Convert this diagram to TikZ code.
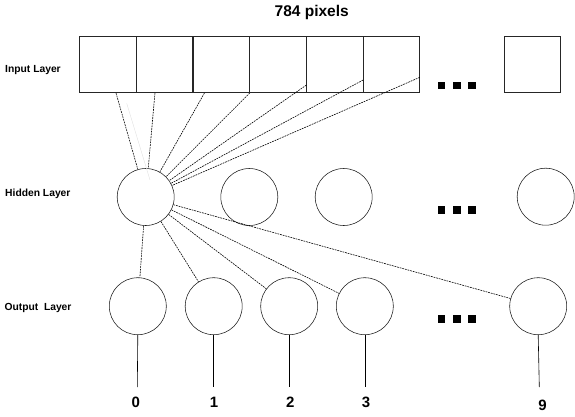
\documentclass[tikz,border=0pt]{standalone}
\usepackage{fontspec}
\setmainfont{Liberation Sans}
\usepackage{tikz}

\tikzset{
	caixa/.style={draw=black!85, line width=0.6pt, minimum width=56.7pt, minimum height=56pt, inner sep=0pt},
	neuronio/.style={circle, draw=black!90, line width=0.55pt, minimum size=57pt, inner sep=0pt},
	ligacao/.style={dash pattern=on 1.8pt off 0.9pt, line width=0.6pt},
	ponto/.style={fill=black, minimum size=7.6pt, inner sep=0pt},
	camada/.style={anchor=base west, font=\bfseries\fontsize{10.3}{12}\selectfont},
	digito/.style={anchor=base, font=\bfseries\fontsize{15}{17}\selectfont}
}

\begin{document}
\begin{tikzpicture}[x=1pt, y=-1pt]
			\useasboundingbox (0,0) rectangle (575,416);
			% Título e nomes das camadas
			\node[anchor=base, font=\bfseries\fontsize{15.5}{18}\selectfont] (titulo) at (311.7,16.7) {784 pixels};
			\node[camada] (lentrada) at (1.7,72.7) {Input Layer};
			\node[camada] (loculta) at (1.7,196.7) {Hidden Layer};
			\node[camada] (lsaida) at (1,310) {Output\ \ Layer};
			% Camada de entrada
			\foreach \i in {1,...,6}
				\node[caixa] (e\i) at ({107.8+56.67*(\i-1)},64.7) {};
			\node[caixa] (e784) at (532.3,64.7) {};
			% Camada oculta
			\node[neuronio] (h1) at (145.7,197) {};
			\node[neuronio] (h2) at (249.3,197) {};
			\node[neuronio] (h3) at (343.7,197) {};
			\node[neuronio] (h4) at (545.7,196.7) {};
			% Camada de saída
			\foreach \d/\x in {0/137.8, 1/213.7, 2/289.2, 3/364.8, 9/538.2}
				\node[neuronio] (o\d) at (\x,306.2) {};
			% Reticências
			\foreach \y/\n in {85.5/a, 210.2/b, 319/c}
				\foreach \x/\k in {441.3/1, 456.7/2, 472.2/3}
					\node[ponto] (r\n\k) at (\x,\y) {};
			% Ligações entrada -> oculta
			\coordinate (p1) at ([xshift=8.2pt]e1.south);
			\coordinate (p2) at ([xshift=-9.5pt]e2.south);
			\coordinate (p3) at ([xshift=-16.7pt]e3.south);
			\coordinate (p4) at (e3.south east);
			\coordinate (p5) at ([yshift=-20.3pt]e4.east);
			\coordinate (p6) at ([yshift=-15.3pt]e5.east);
			\coordinate (p7) at ([yshift=-12.6pt]e6.east);
			\foreach \i in {1,...,7}
				\draw[ligacao] (p\i) -- (h1);
			\coordinate (f1) at (126.7,103.3);
			\coordinate (f2) at (150,180);
			\draw[black!12, line width=0.4pt] (f1) -- (f2);
			% Ligações oculta -> saída
			\foreach \d in {0,1,2,3,9}
				\draw[ligacao] (h1) -- (o\d);
			% Saídas
			\foreach \d/\x in {0/137.3, 1/213.7, 2/289.2, 3/364.8, 9/539.3} {
				\coordinate (s\d) at (\x,387);
				\draw[line width=0.6pt] (o\d.south) -- (s\d);
			}
			\node[digito] (d0) at (135.7,407.3) {0};
			\node[digito] (d1) at (214,407.3) {1};
			\node[digito] (d2) at (290.3,407.3) {2};
			\node[digito] (d3) at (366,407.3) {3};
			\node[digito] (d9) at (542.5,410.7) {9};
		\end{tikzpicture}
\end{document}
